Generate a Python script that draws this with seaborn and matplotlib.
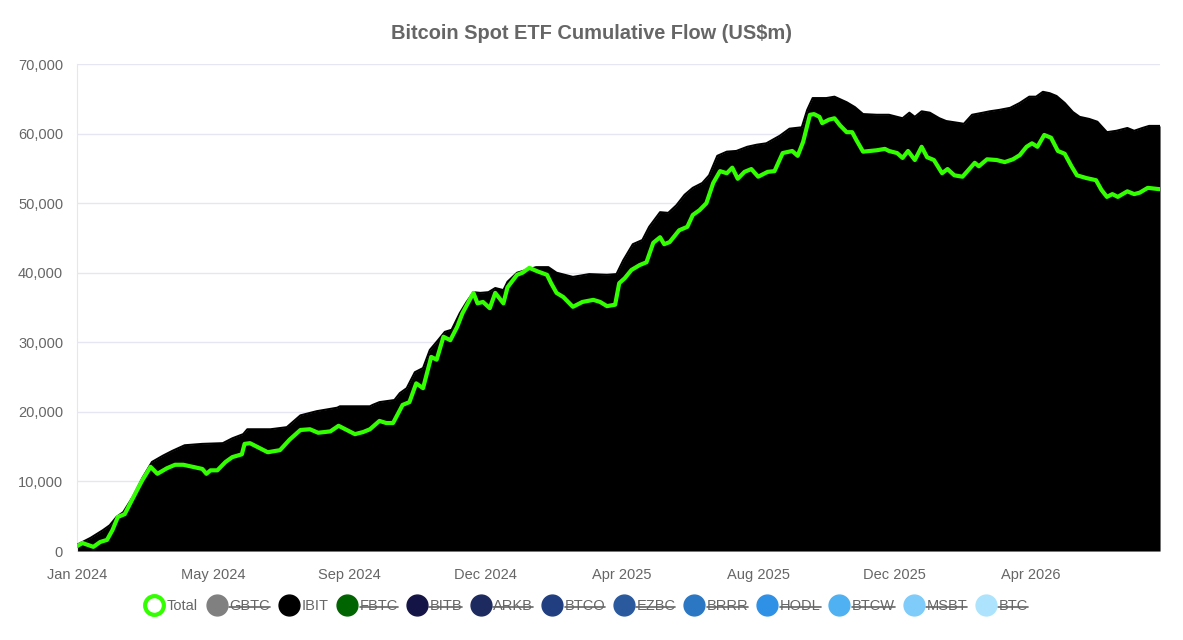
import matplotlib
matplotlib.use("Agg")
import matplotlib.pyplot as plt
from matplotlib.lines import Line2D
import seaborn as sns
import pandas as pd

# cumulative flows in US$m, x is a day index (100 units between axis labels)
total_day = [0, 4, 12, 17, 22, 26, 30, 35, 40, 45, 48, 54, 59, 66, 72, 78, 85, 92, 95, 98,
             103, 109, 114, 121, 123, 127, 134, 140, 149, 156, 164, 171, 177, 186, 192, 198,
             204, 210, 215, 222, 227, 232, 239, 244, 249, 254, 260, 264, 269, 274, 279, 283,
             291, 294, 298, 303, 307, 313, 316, 323, 327, 332, 338, 345, 348, 352, 357, 364,
             371, 379, 384, 389, 395, 398, 402, 407, 413, 418, 423, 428, 431, 435, 442, 448,
             452, 457, 462, 467, 472, 477, 481, 485, 490, 495, 500, 507, 512, 518, 525, 529,
             533, 538, 541, 545, 547, 552, 556, 560, 565, 569, 572, 577, 587, 593, 596, 602,
             606, 610, 615, 620, 624, 629, 635, 639, 644, 650, 659, 662, 668, 675, 681, 687,
             692, 697, 701, 705, 710, 715, 720, 725, 730, 734, 741, 748, 752, 756, 760, 764,
             771, 776, 780, 786, 795]
total_flow = [700, 1150, 600, 1300, 1600, 3000, 4900, 5300, 7200, 9100, 10200, 12100, 11100,
              11900, 12400, 12400, 12100, 11800, 11100, 11600, 11600, 12800, 13500, 13900,
              15400, 15500, 14800, 14200, 14500, 16000, 17400, 17500, 17000, 17200, 18000,
              17400, 16800, 17100, 17500, 18700, 18400, 18400, 21000, 21400, 24100, 23400,
              27900, 27500, 30800, 30300, 32200, 34200, 37100, 35600, 35800, 34900, 37100,
              35600, 37900, 39700, 40000, 40700, 40200, 39700, 38500, 37100, 36500, 35100,
              35800, 36100, 35800, 35200, 35400, 38500, 39200, 40400, 41100, 41500, 44300,
              45100, 44100, 44400, 46100, 46600, 48300, 49000, 50000, 52900, 54600, 54300,
              55100, 53500, 54500, 54900, 53800, 54500, 54600, 57200, 57500, 56800, 58800,
              62700, 62800, 62400, 61500, 62000, 62200, 61200, 60200, 60200, 59100, 57400,
              57600, 57800, 57500, 57200, 56500, 57500, 56200, 58100, 56600, 56200, 54300,
              54900, 54000, 53800, 55800, 55300, 56300, 56200, 55900, 56300, 56900, 58100,
              58600, 58100, 59800, 59400, 57500, 57100, 55300, 54000, 53600, 53300, 51900,
              50900, 51300, 50900, 51700, 51300, 51500, 52200, 52000]

ibit_day = [0, 10, 19, 24, 29, 34, 41, 48, 55, 63, 70, 79, 92, 107, 114, 122, 125, 142, 154,
            164, 176, 191, 193, 215, 217, 222, 233, 237, 242, 248, 254, 259, 265, 270, 275,
            281, 286, 291, 296, 302, 307, 313, 316, 323, 330, 337, 346, 352, 364, 376, 389,
            396, 401, 408, 415, 420, 428, 434, 440, 446, 452, 459, 464, 470, 477, 484, 492,
            499, 506, 516, 523, 532, 536, 540, 550, 556, 565, 571, 577, 587, 596, 606, 611,
            615, 620, 626, 633, 638, 648, 651, 657, 665, 670, 677, 685, 692, 699, 704, 709,
            714, 719, 725, 731, 736, 743, 749, 756, 763, 771, 776, 782, 787, 795]
ibit_flow = [900, 1900, 3000, 3700, 4900, 5600, 7800, 10500, 12800, 13700, 14400, 15200,
             15400, 15500, 16200, 16800, 17500, 17500, 17800, 19500, 20100, 20600, 20800,
             20800, 21000, 21400, 21700, 22700, 23400, 25700, 26300, 28900, 30300, 31500,
             31800, 34200, 35800, 37200, 37100, 37200, 37800, 37500, 38700, 40000, 40400,
             40800, 40800, 40000, 39400, 39800, 39700, 39800, 41800, 44100, 44700, 46600,
             48700, 48600, 49700, 51200, 52200, 52900, 54000, 56800, 57400, 57500, 58100,
             58400, 58600, 59700, 60700, 60900, 63400, 65100, 65100, 65300, 64500, 63800,
             62800, 62700, 62700, 62200, 63000, 62400, 63200, 63000, 62200, 61800, 61500,
             61400, 62700, 63000, 63200, 63400, 63700, 64400, 65300, 65300, 66000, 65800,
             65400, 64400, 63100, 62400, 62100, 61700, 60200, 60400, 60800, 60400, 60800,
             61100, 61100]

tick_pos = [0, 100, 200, 300, 400, 500, 600, 700]
tick_labels = ["Jan 2024", "May 2024", "Sep 2024", "Dec 2024", "Apr 2025", "Aug 2025",
               "Dec 2025", "Apr 2026"]

legend_names = ["Total", "GBTC", "IBIT", "FBTC", "BITB", "ARKB", "BTCO", "EZBC", "BRRR",
                "HODL", "BTCW", "MSBT", "BTC"]
legend_colors = ["#33ff00", "#808080", "#000000", "#006400", "#141446", "#1c2a5f", "#213f80",
                 "#2a599e", "#2b77c3", "#2e91e6", "#4fb1f2", "#7fcbfa", "#ade3fc"]
hidden = {"GBTC", "FBTC", "BITB", "ARKB", "BTCO", "EZBC", "BRRR", "HODL", "BTCW", "MSBT", "BTC"}

sns.set_style("white")
plt.rcParams["font.family"] = ["Liberation Sans", "DejaVu Sans"]

total_df = pd.DataFrame({"day": total_day, "flow": total_flow})
ibit_df = pd.DataFrame({"day": ibit_day, "flow": ibit_flow})

fig = plt.figure(figsize=(11.83, 6.4), dpi=100)
ax = fig.add_axes([0.0651, 0.139, 0.9155, 0.761])

ax.fill_between(ibit_df["day"], ibit_df["flow"], color="black", lw=0, zorder=2)
sns.lineplot(data=ibit_df, x="day", y="flow", color="black", lw=1.5, ax=ax, zorder=3)
sns.lineplot(data=total_df, x="day", y="flow", color="#33ff00", lw=3, ax=ax, zorder=4)

ax.set_xlim(0, 795)
ax.set_ylim(0, 70000)
ax.set_yticks(range(0, 70001, 10000))
ax.set_yticklabels([f"{v:,}" for v in range(0, 70001, 10000)])
ax.set_xticks(tick_pos)
ax.set_xticklabels(tick_labels)
ax.set_xlabel("")
ax.set_ylabel("")
ax.grid(axis="y", color="#e6e6f2", lw=1)
ax.tick_params(axis="y", length=6, color="#e6e6f2", labelsize=10.5, labelcolor="#666666", pad=4)
ax.tick_params(axis="x", length=0, labelsize=10.5, labelcolor="#666666", pad=12)
for side in ["top", "right", "bottom"]:
    ax.spines[side].set_visible(False)
ax.spines["left"].set_color("#e6e6f2")

fig.suptitle("Bitcoin Spot ETF Cumulative Flow (US$m)", y=0.962, fontsize=14.4,
             fontweight="bold", color="#666666")

handles = []
for name, col in zip(legend_names, legend_colors):
    if name == "Total":
        h = Line2D([], [], ls="", marker="o", ms=13.5, mfc="white", mec=col, mew=3)
    else:
        h = Line2D([], [], ls="", marker="o", ms=15, mfc=col, mec=col)
    handles.append(h)
leg = fig.legend(handles, legend_names, loc="center", bbox_to_anchor=(0.495, 0.053), ncol=13,
                 frameon=False, handletextpad=0.15, columnspacing=0.55, handlelength=1.45,
                 fontsize=10.5)
for t in leg.get_texts():
    t.set_color("#666666")

fig.canvas.draw()
inv = fig.transFigure.inverted()
for t in leg.get_texts():
    if t.get_text() in hidden:
        bb = t.get_window_extent()
        (x0, y0), (x1, y1) = inv.transform([(bb.x0, bb.y0), (bb.x1, bb.y1)])
        ym = (y0 + y1) / 2 - 0.002
        fig.add_artist(Line2D([x0, x1], [ym, ym], color="#666666", lw=1.2,
                              transform=fig.transFigure))

fig.savefig("out.png", dpi=100)
